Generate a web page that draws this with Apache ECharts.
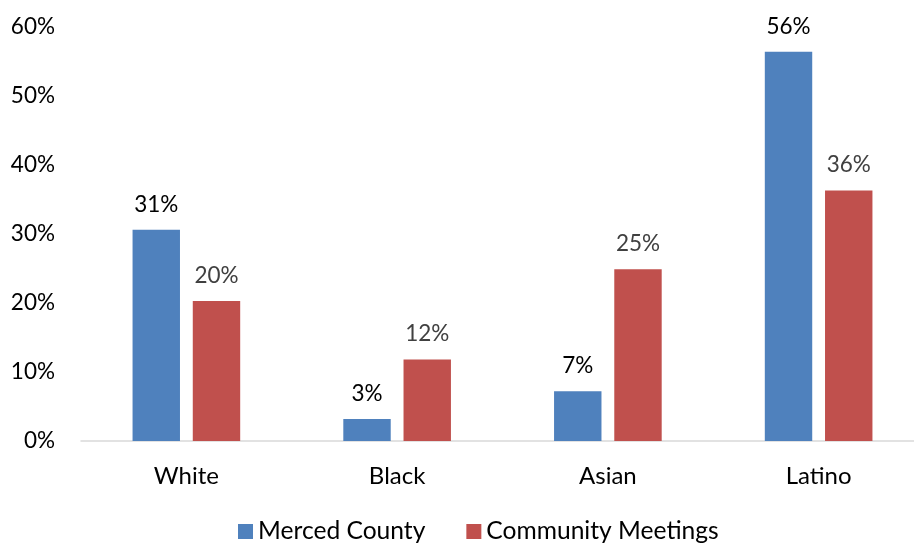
<!DOCTYPE html>
<html>
<head>
<meta charset="utf-8">
<script src="https://cdn.jsdelivr.net/npm/echarts@6/dist/echarts.min.js"></script>
<style>
  html, body { margin: 0; padding: 0; background: #fff; }
  #chart { width: 914px; height: 544px; }
</style>
</head>
<body>
<div id="chart"></div>
<script>
// Share of each group (%), county population vs. meeting attendance
const categories = ['White', 'Black', 'Asian', 'Latino'];
const mercedCounty = [30.6, 3.2, 7.2, 56.4];
const communityMeetings = [20.3, 11.8, 24.9, 36.3];
const yTicks = [0, 10, 20, 30, 40, 50, 60];

const FONT = 'Lato, "Open Sans", sans-serif';
const pct = v => Math.round(v) + '%';

const chart = echarts.init(document.getElementById('chart'), null, { renderer: 'canvas' });

chart.setOption({
  animation: false,
  textStyle: { fontFamily: FONT },
  grid: { left: 81, top: 27, width: 843, height: 414, containLabel: false, outerBoundsMode: 'none' },
  legend: {
    bottom: -5,
    left: 233,
    itemWidth: 15,
    itemHeight: 15,
    itemGap: 41,
    icon: 'rect',
    textStyle: { fontFamily: FONT, fontSize: 24.6, color: '#000' },
    data: ['Merced County', 'Community Meetings']
  },
  xAxis: {
    type: 'category',
    data: categories,
    axisLine: { lineStyle: { color: '#d9d9d9', width: 1.5 } },
    axisTick: { show: false },
    axisLabel: { color: '#000', fontSize: 24, fontFamily: FONT, margin: 23 }
  },
  yAxis: {
    type: 'value',
    min: yTicks[0],
    max: yTicks[yTicks.length - 1],
    interval: 10,
    splitLine: { show: false },
    axisLine: { show: false },
    axisTick: { show: false },
    axisLabel: { color: '#000', fontSize: 22.5, fontFamily: FONT, margin: 26, formatter: v => v + '%' }
  },
  series: [
    {
      name: 'Merced County',
      type: 'bar',
      data: mercedCounty,
      barWidth: '22.5%',
      barGap: '27%',
      itemStyle: { color: '#4F81BD' },
      label: { show: true, position: 'top', distance: 14, color: '#000', fontSize: 22.5, fontFamily: FONT, formatter: p => pct(p.value) }
    },
    {
      name: 'Community Meetings',
      type: 'bar',
      data: communityMeetings,
      barWidth: '22.5%',
      itemStyle: { color: '#C0504D' },
      label: { show: true, position: 'top', distance: 14, color: '#404040', fontSize: 22.5, fontFamily: FONT, formatter: p => pct(p.value) }
    }
  ]
});
</script>
</body>
</html>
